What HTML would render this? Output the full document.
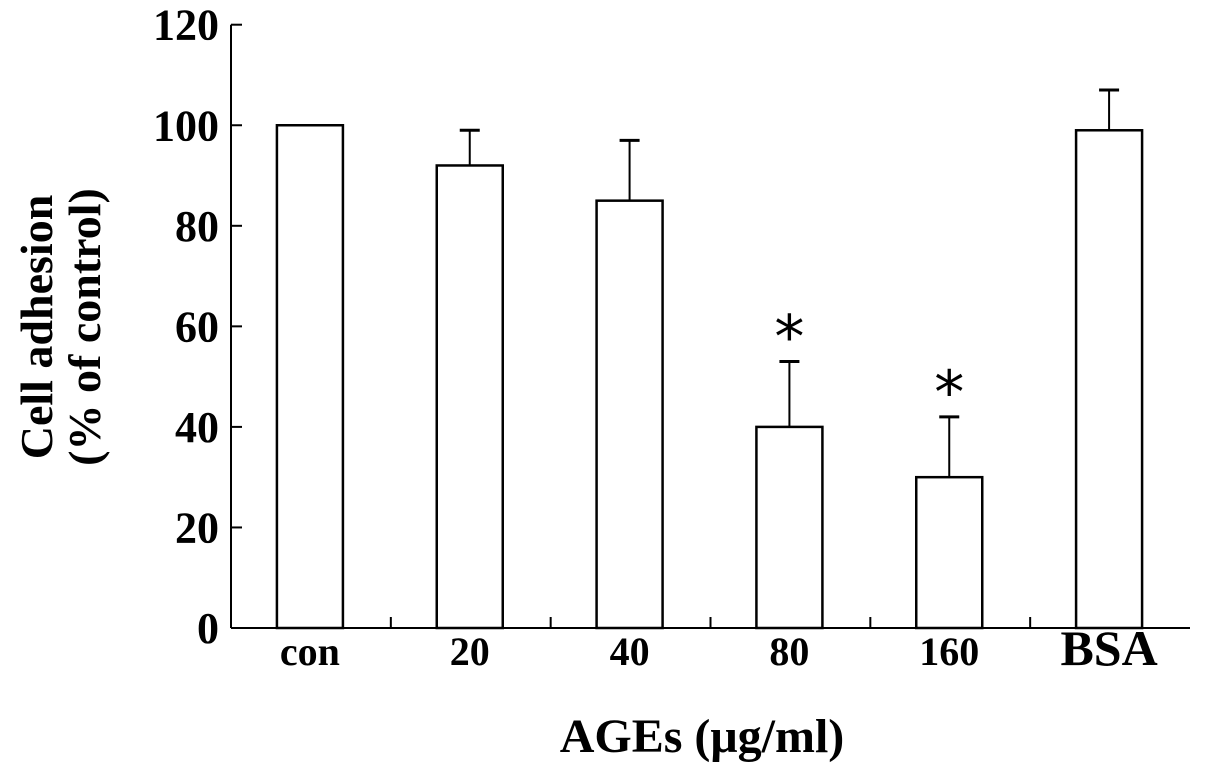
<!DOCTYPE html>
<html><head><meta charset="utf-8"><style>
body{margin:0;background:#fff}
svg text{font-family:"Liberation Serif",serif;font-weight:bold;fill:#000}
</style></head><body>
<svg width="1205" height="774">
<g id="g"></g>
</svg>
<script>
const categories=["con","20","40","80","160","BSA"];
const values=[100,92,85,40,30,99];
const errors=[0,7,12,13,12,8];
const sig=[false,false,false,true,true,false];
const yTicks=[0,20,40,60,80,100,120];
const NS="http://www.w3.org/2000/svg";
const g=document.getElementById('g');
const X0=231,X1=1190,Y0=628,Y1=24.7,YMAX=120;
const bw=(X1-X0)/categories.length;
const y=v=>Y0-(v/YMAX)*(Y0-Y1);
const x=i=>X0+bw*(i+0.5);
function el(t,a,txt){const e=document.createElementNS(NS,t);for(const k in a)e.setAttribute(k,a[k]);if(txt!==undefined)e.textContent=txt;g.appendChild(e);return e;}
let e=el('line',{x1:X0,y1:Y1,x2:X0,y2:Y0,stroke:'#000','stroke-width':2});

e=el('line',{x1:X0,y1:Y0,x2:X1,y2:Y0,stroke:'#000','stroke-width':2});

yTicks.forEach(t=>{
 e=el('line',{x1:X0,y1:y(t),x2:X0+11,y2:y(t),stroke:'#000','stroke-width':2});
 
 e=el('text',{x:X0-12,y:y(t)+15,'text-anchor':'end','font-size':44},t);
 
});
for(let i=1;i<categories.length;i++){
 e=el('line',{x1:X0+bw*i,y1:Y0,x2:X0+bw*i,y2:Y0-11,stroke:'#000','stroke-width':2});
 
}
categories.forEach((c,i)=>{
 const cx=x(i)-1,w=66;
 if(errors[i]>0){
  e=el('line',{x1:cx,y1:y(values[i]),x2:cx,y2:y(values[i]+errors[i]),stroke:'#000','stroke-width':2});
  
  e=el('line',{x1:cx-10,y1:y(values[i]+errors[i]),x2:cx+10,y2:y(values[i]+errors[i]),stroke:'#000','stroke-width':3});
  
 }
 e=el('rect',{x:cx-w/2,y:y(values[i]),width:w,height:Y0-y(values[i]),fill:'#fff',stroke:'#000','stroke-width':2.5});
 
 if(sig[i]){
  e=el('text',{x:cx,y:y(values[i]+errors[i])-4,'text-anchor':'middle','font-size':60,style:'font-weight:normal;font-family:"DejaVu Sans",sans-serif'},'*');
  
 }
 e=el('text',{x:cx,y:665,'text-anchor':'middle','font-size':c==='BSA'?50:40},c);
 
});
e=el('text',{x:702,y:752,'text-anchor':'middle','font-size':48},'AGEs (μg/ml)');

e=el('text',{transform:'translate(52,327) rotate(-90)','text-anchor':'middle','font-size':46},'Cell adhesion');

e=el('text',{transform:'translate(100,327) rotate(-90)','text-anchor':'middle','font-size':46},'(% of control)');

</script>
</body></html>
